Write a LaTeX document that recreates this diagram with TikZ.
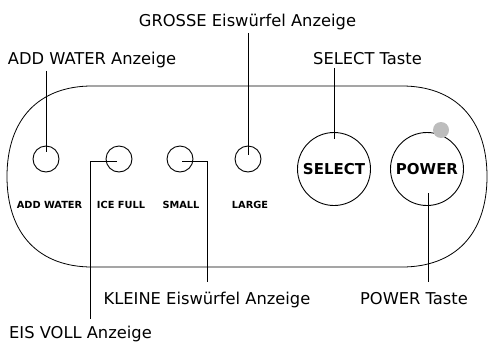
\documentclass[tikz,border=0pt]{standalone}
\usepackage{fontspec}
\setmainfont{DejaVu Sans}
\usepackage{tikz}
\usetikzlibrary{calc}
\definecolor{ledgray}{HTML}{BDBDBD}

\begin{document}
\begin{tikzpicture}[x=1pt,y=-1pt,font=\fontsize{16.3}{18}\selectfont]
    \tikzstyle{led}=[draw,circle,line width=0.9pt,minimum size=26pt,inner sep=0pt]
    \tikzstyle{btn}=[draw,circle,line width=0.9pt,minimum size=73pt,inner sep=0pt,font=\fontsize{15}{16}\selectfont\bfseries]
    \tikzstyle{ledtxt}=[anchor=base,font=\fontsize{9.8}{10}\selectfont\bfseries]
    \tikzstyle{lbl}=[anchor=base]
    \tikzstyle{lead}=[line width=0.7pt]
    \useasboundingbox (0,0) rectangle (489,343);
    % panel outline
    \draw[line width=0.8pt] (92,86) -- (402,86)
        .. controls (455.5,86) and (487,119.5) .. (487,176.5)
        .. controls (487,233.5) and (455.5,267) .. (402,267) -- (92,267)
        .. controls (38.5,267) and (7,233.5) .. (7,176.5)
        .. controls (7,119.5) and (38.5,86) .. (92,86) -- cycle;
    % indicators
    \node[led] (aw) at (46,159) {};
    \node[led] (if) at (119,159) {};
    \node[led] (sm) at (180,159) {};
    \node[led] (lg) at (248,159) {};
    \node[ledtxt] (awc) at (49.5,208) {ADD WATER};
    \node[ledtxt] (ifc) at (121,208) {ICE FULL};
    \node[ledtxt] (smc) at (181,208) {SMALL};
    \node[ledtxt] (lgc) at (250,208) {LARGE};
    % buttons
    \node[btn] (sel) at (334,169) {SELECT};
    \node[btn] (pow) at (427,169) {POWER};
    \node[circle,fill=ledgray,minimum size=16pt,inner sep=0pt] (pled) at (441,130) {};
    % labels
    \node[lbl] (awl) at (92,64) {ADD WATER Anzeige};
    \node[lbl] (gl) at (247.5,26) {GROSSE Eiswürfel Anzeige};
    \node[lbl] (sl) at (367.5,64) {SELECT Taste};
    \node[lbl] (kl) at (207,304) {KLEINE Eiswürfel Anzeige};
    \node[lbl] (pl) at (414,304) {POWER Taste};
    \node[lbl] (el) at (80.5,338.5) {EIS VOLL Anzeige};
    % leader lines
    \draw[lead] (awl.south -| aw) -- ($(aw)+(0,-7)$);
    \draw[lead] (gl.south -| lg) -- ($(lg)+(0,-4)$);
    \draw[lead] (sl.south -| sel) -- ($(sel)+(0,-30)$);
    \draw[lead] ($(if)+(-2,2)$) -| ($(el.north)+(9.5,-4)$);
    \draw[lead] ($(sm)+(2,2)$) -| ($(kl.north)+(0,-6)$);
    \draw[lead] ($(pow)+(1,24)$) -- ($(pl.north -| pow)+(1,-6)$);
\end{tikzpicture}
\end{document}
